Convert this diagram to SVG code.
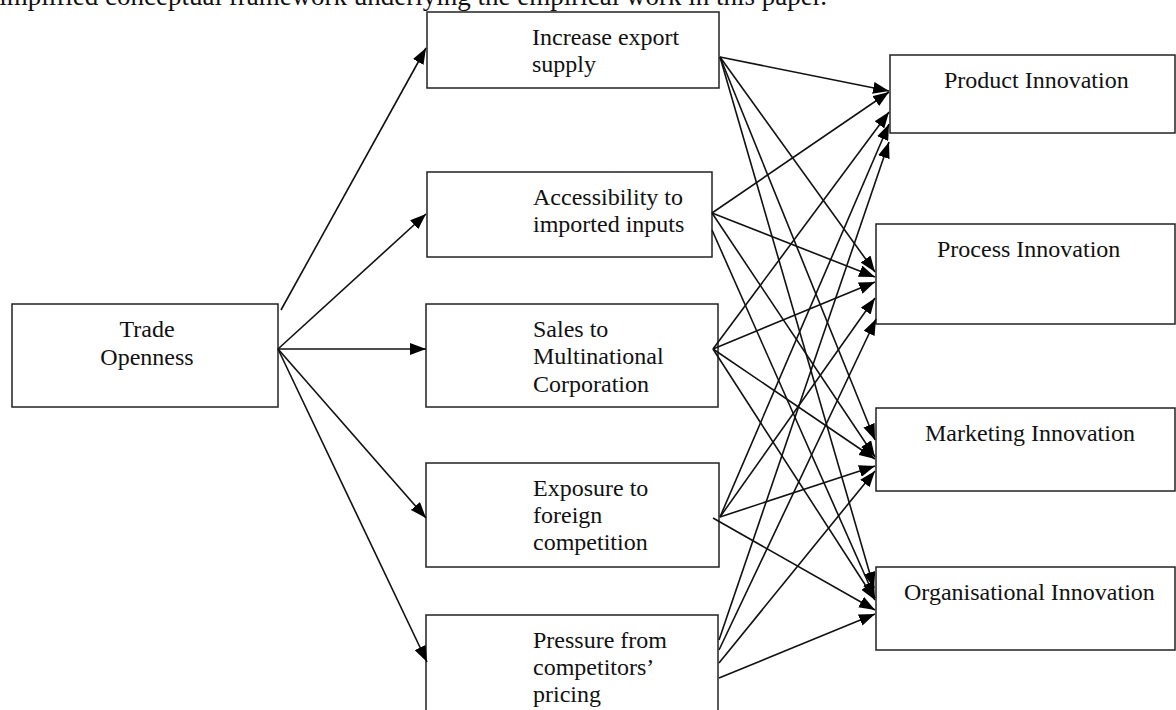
<svg xmlns="http://www.w3.org/2000/svg" width="1176" height="710" viewBox="0 0 1176 710">
<defs>
<marker id="ah" markerUnits="userSpaceOnUse" markerWidth="16" markerHeight="12" refX="16" refY="6" orient="auto">
<path d="M0,0 L16,6 L0,12 z" fill="#000"/>
</marker>
<style>
.box{fill:#fff;stroke:#222;stroke-width:1.5}
.t{font-family:"Liberation Serif","Times New Roman",serif;font-size:24px;fill:#111}
.cap{font-family:"Liberation Serif","Times New Roman",serif;font-size:27px;fill:#111}
.c{fill:none;stroke:#111;stroke-width:1.6;marker-end:url(#ah)}
</style>
</defs>
<rect width="1176" height="710" fill="#fff"/>
<text class="cap" x="827" y="5" text-anchor="end">Simplified conceptual framework underlying the empirical work in this paper.</text>

<g id="trade">
<rect class="box" x="12" y="304" width="266" height="103"/>
<text class="t" x="147" y="337" text-anchor="middle">Trade</text>
<text class="t" x="147" y="365" text-anchor="middle">Openness</text>
</g>

<g id="export">
<rect class="box" x="427" y="12" width="292" height="76"/>
<text class="t" x="532" y="45">Increase export</text>
<text class="t" x="532" y="72">supply</text>
</g>
<g id="imported">
<rect class="box" x="427" y="172" width="285" height="85"/>
<text class="t" x="533" y="205">Accessibility to</text>
<text class="t" x="533" y="232">imported inputs</text>
</g>
<g id="sales">
<rect class="box" x="426" y="304" width="292" height="103"/>
<text class="t" x="533" y="337">Sales to</text>
<text class="t" x="533" y="364">Multinational</text>
<text class="t" x="533" y="392">Corporation</text>
</g>
<g id="exposure">
<rect class="box" x="426" y="463" width="293" height="104"/>
<text class="t" x="533" y="496">Exposure to</text>
<text class="t" x="533" y="523">foreign</text>
<text class="t" x="533" y="550">competition</text>
</g>
<g id="pressure">
<rect class="box" x="426" y="615" width="292" height="120"/>
<text class="t" x="533" y="648">Pressure from</text>
<text class="t" x="533" y="675">competitors’</text>
<text class="t" x="533" y="702">pricing</text>
</g>

<g id="product">
<rect class="box" x="890" y="55" width="285" height="78"/>
<text class="t" x="944" y="88">Product Innovation</text>
</g>
<g id="process">
<rect class="box" x="876" y="224" width="299" height="100"/>
<text class="t" x="937" y="257">Process Innovation</text>
</g>
<g id="marketing">
<rect class="box" x="876" y="408" width="299" height="83"/>
<text class="t" x="925" y="441">Marketing Innovation</text>
</g>
<g id="organisational">
<rect class="box" x="876" y="567" width="299" height="83"/>
<text class="t" x="904" y="600">Organisational Innovation</text>
</g>

<g id="connectors">
<path class="c" d="M281,310 L426,48"/>
<path class="c" d="M278,349 L426,214"/>
<path class="c" d="M278,349 L426,349"/>
<path class="c" d="M278,349 L426,518"/>
<path class="c" d="M278,349 L427,662"/>

<path class="c" d="M720,57 L889,91"/>
<path class="c" d="M720,57 L875,272"/>
<path class="c" d="M720,57 L875,440"/>
<path class="c" d="M720,57 L874,588"/>

<path class="c" d="M712,213 L889,92"/>
<path class="c" d="M712,213 L875,277"/>
<path class="c" d="M712,213 L875,457"/>
<path class="c" d="M712,230 L875,598"/>

<path class="c" d="M713,349 L889,112"/>
<path class="c" d="M713,349 L875,282"/>
<path class="c" d="M713,349 L875,459"/>
<path class="c" d="M713,349 L875,600"/>

<path class="c" d="M720,517 L889,124"/>
<path class="c" d="M720,517 L875,298"/>
<path class="c" d="M720,517 L875,466"/>
<path class="c" d="M713,518 L875,610"/>

<path class="c" d="M719,640 L889,142"/>
<path class="c" d="M719,650 L876,319"/>
<path class="c" d="M719,663 L875,471"/>
<path class="c" d="M719,678 L875,614"/>
</g>
</svg>
